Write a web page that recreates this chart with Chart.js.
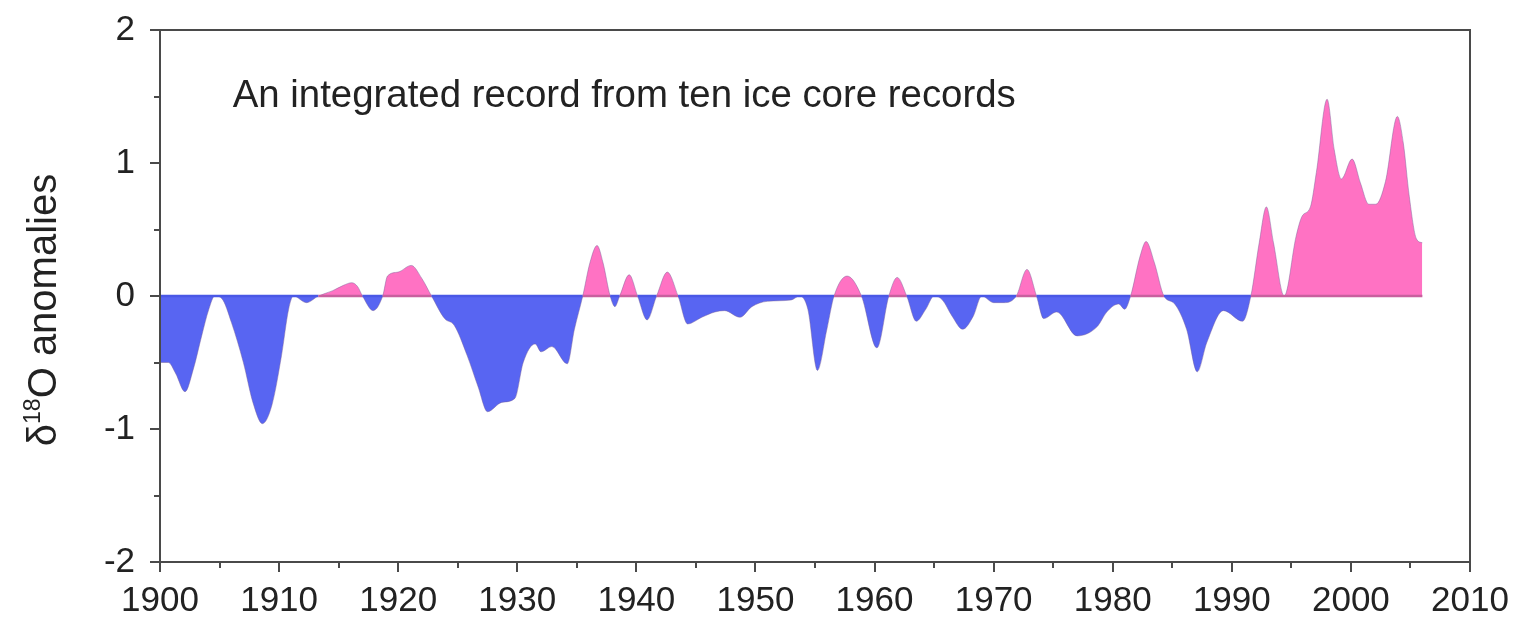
<!DOCTYPE html>
<html>
<head>
<meta charset="utf-8">
<script src="https://cdn.jsdelivr.net/npm/chart.js@4.4.1/dist/chart.umd.min.js"></script>
<style>
  html, body { margin: 0; padding: 0; background: #ffffff; }
  #wrap { width: 1520px; height: 623px; }
</style>
</head>
<body>
<div id="wrap"><canvas id="c" width="1520" height="623"></canvas></div>
<script>
// Integrated δ18O anomaly record (smoothed), year vs anomaly
const years = [
  1900.0, 1900.7, 1901.3, 1902.1, 1902.8, 1903.5, 1904.1, 1904.6, 1905.2, 1906.0,
  1907.0, 1907.8, 1908.6, 1909.4, 1910.2, 1910.8, 1911.2, 1912.3, 1913.3, 1914.5,
  1915.4, 1916.1, 1916.6, 1917.0, 1917.9, 1918.7, 1919.1, 1920.0, 1921.1, 1922.0,
  1922.8, 1923.9, 1924.7, 1925.8, 1926.7, 1927.5, 1928.7, 1929.8, 1930.5, 1931.5,
  1932.0, 1932.9, 1934.2, 1934.8, 1935.5, 1936.1, 1936.7, 1937.2, 1937.8, 1938.2,
  1938.6, 1939.4, 1940.1, 1940.9, 1941.7, 1942.6, 1943.5, 1944.3, 1945.5, 1946.6,
  1947.4, 1948.7, 1949.7, 1951.0, 1953.0, 1953.7, 1954.4, 1955.2, 1956.0, 1956.6,
  1957.7, 1958.9, 1960.2, 1961.2, 1961.9, 1962.7, 1963.5, 1964.3, 1965.0, 1965.7,
  1966.5, 1967.4, 1968.3, 1969.0, 1970.0, 1970.9, 1971.9, 1972.8, 1973.6, 1974.2,
  1975.3, 1977.0, 1978.7, 1979.5, 1980.5, 1981.0, 1981.5, 1982.3, 1982.8, 1983.5,
  1984.3, 1985.2, 1986.2, 1987.1, 1987.9, 1989.3, 1990.9, 1991.6, 1992.3, 1992.9,
  1993.5, 1994.4, 1995.4, 1995.9, 1996.6, 1997.1, 1998.0, 1998.6, 1999.2, 2000.1,
  2000.8, 2001.5, 2002.1, 2002.9, 2003.9, 2004.4, 2004.9, 2005.5, 2006.0
];
const anomalies = [
  -0.50, -0.50, -0.58, -0.72, -0.55, -0.30, -0.10, 0.00, -0.02, -0.20,
  -0.50, -0.80, -0.96, -0.82, -0.45, -0.10, 0.00, -0.05, 0.00, 0.04,
  0.08, 0.10, 0.07, 0.00, -0.11, 0.00, 0.15, 0.18, 0.23, 0.13,
  0.00, -0.17, -0.22, -0.45, -0.68, -0.87, -0.80, -0.77, -0.50, -0.36,
  -0.42, -0.38, -0.51, -0.25, 0.00, 0.25, 0.38, 0.25, 0.00, -0.08,
  0.00, 0.16, 0.00, -0.18, 0.00, 0.18, 0.00, -0.21, -0.16, -0.12,
  -0.11, -0.16, -0.08, -0.04, -0.03, 0.00, -0.10, -0.56, -0.25, 0.00,
  0.15, 0.00, -0.39, 0.00, 0.14, 0.00, -0.19, -0.10, 0.00, -0.03,
  -0.15, -0.25, -0.15, 0.00, -0.05, -0.05, 0.00, 0.20, 0.00, -0.17,
  -0.12, -0.30, -0.23, -0.12, -0.06, -0.10, 0.00, 0.30, 0.41, 0.25,
  0.00, -0.06, -0.25, -0.57, -0.35, -0.11, -0.19, 0.00, 0.40, 0.67,
  0.40, 0.00, 0.45, 0.60, 0.67, 0.93, 1.48, 1.10, 0.88, 1.03,
  0.85, 0.69, 0.69, 0.86, 1.35, 1.15, 0.75, 0.43, 0.40
];

// Axis tick values (labelled) and minor tick steps
const xLabels = [1900, 1910, 1920, 1930, 1940, 1950, 1960, 1970, 1980, 1990, 2000, 2010];
const yLabels = [-2, -1, 0, 1, 2];
const xMinorStep = 5;
const yMinorStep = 0.5;

const noteText = 'An integrated record from ten ice core records';
const noteAt = { x: 1906.1, y: 1.5 };
const yTitleParts = { lead: 'δ', sup: '18', tail: 'O anomalies' };

const FONT = '"Liberation Sans", Arial, Helvetica, sans-serif';
const POS_FILL = '#ff72c3';
const NEG_FILL = '#5865f2';
const POS_BASE = '#c8609e';
const NEG_BASE = '#4a58e6';
const AXIS_COLOR = '#4a4a4a';

const points = years.map((x, i) => ({ x, y: anomalies[i] }));
const baseline = years.map(x => ({ x, y: 0 }));

// Frame, tick marks, annotation and y-axis title
const decorations = {
  id: 'decorations',
  afterDatasetsDraw(chart) {
    const { ctx, chartArea: a, scales: { x, y } } = chart;
    ctx.save();
    // plot frame
    ctx.strokeStyle = AXIS_COLOR;
    ctx.lineWidth = 2;
    ctx.strokeRect(a.left, a.top, a.right - a.left, a.bottom - a.top);

    // x tick marks (major every 10 years, minor every 5)
    for (let v = x.min; v <= x.max + 1e-9; v += xMinorStep) {
      const px = Math.round(x.getPixelForValue(v));
      const major = xLabels.includes(v);
      ctx.beginPath();
      ctx.moveTo(px, a.bottom);
      ctx.lineTo(px, a.bottom + (major ? 10 : 6));
      ctx.stroke();
    }
    // y tick marks (major every 1, minor every 0.5)
    for (let v = y.min; v <= y.max + 1e-9; v += yMinorStep) {
      const py = Math.round(y.getPixelForValue(v));
      const major = yLabels.includes(v);
      ctx.beginPath();
      ctx.moveTo(a.left - (major ? 10 : 6), py);
      ctx.lineTo(a.left, py);
      ctx.stroke();
    }

    // annotation inside the plot
    ctx.fillStyle = '#222222';
    ctx.font = '38.4px ' + FONT;
    ctx.textAlign = 'left';
    ctx.textBaseline = 'middle';
    ctx.fillText(noteText, x.getPixelForValue(noteAt.x), y.getPixelForValue(noteAt.y));

    // rotated y-axis title with superscript
    const big = '40px ' + FONT;
    const small = '23px ' + FONT;
    ctx.font = big;
    const wLead = ctx.measureText(yTitleParts.lead).width;
    const wTail = ctx.measureText(yTitleParts.tail).width;
    ctx.font = small;
    const wSup = ctx.measureText(yTitleParts.sup).width;
    const total = wLead + wSup + wTail;
    ctx.translate(42, (a.top + a.bottom) / 2 + 14);
    ctx.rotate(-Math.PI / 2);
    ctx.textAlign = 'left';
    ctx.textBaseline = 'alphabetic';
    let cx = -total / 2;
    const base = 14;
    ctx.font = big;
    ctx.fillText(yTitleParts.lead, cx, base);
    cx += wLead;
    ctx.font = small;
    ctx.fillText(yTitleParts.sup, cx, base - 16);
    cx += wSup;
    ctx.font = big;
    ctx.fillText(yTitleParts.tail, cx, base);
    ctx.restore();
  }
};

new Chart(document.getElementById('c'), {
  type: 'line',
  data: {
    datasets: [
      {
        label: 'δ18O anomaly',
        data: points,
        fill: { target: 'origin', above: POS_FILL, below: NEG_FILL },
        borderColor: 'rgba(120, 95, 150, 0.45)',
        borderWidth: 1,
        pointRadius: 0,
        cubicInterpolationMode: 'monotone',
        order: 2
      },
      {
        label: 'zero',
        data: baseline,
        fill: false,
        borderWidth: 2.5,
        pointRadius: 0,
        borderColor: NEG_BASE,
        segment: {
          borderColor: c => (anomalies[c.p0DataIndex] + anomalies[c.p1DataIndex] > 0 ||
            (anomalies[c.p0DataIndex] >= 0 && anomalies[c.p1DataIndex] >= 0 && c.p0DataIndex > 100))
            ? POS_BASE : NEG_BASE
        },
        order: 1
      }
    ]
  },
  options: {
    responsive: false,
    animation: false,
    devicePixelRatio: 1,
    layout: { padding: { left: 0, right: 50, top: 30, bottom: 0 } },
    plugins: { legend: { display: false }, tooltip: { enabled: false } },
    scales: {
      x: {
        type: 'linear',
        min: 1900,
        max: 2010,
        grid: { display: false },
        border: { display: false },
        afterFit: s => { s.height = 61; },
        ticks: {
          stepSize: 10,
          autoSkip: false,
          maxRotation: 0,
          padding: 10,
          color: '#222222',
          font: { family: FONT, size: 35 },
          callback: v => String(v)
        }
      },
      y: {
        min: -2,
        max: 2,
        grid: { display: false },
        border: { display: false },
        afterFit: s => { s.width = 160; s.paddingTop = 0; s.paddingBottom = 0; },
        ticks: {
          stepSize: 1,
          padding: 17,
          color: '#222222',
          font: { family: FONT, size: 35 },
          callback: v => String(v)
        }
      }
    }
  },
  plugins: [decorations]
});
</script>
</body>
</html>
